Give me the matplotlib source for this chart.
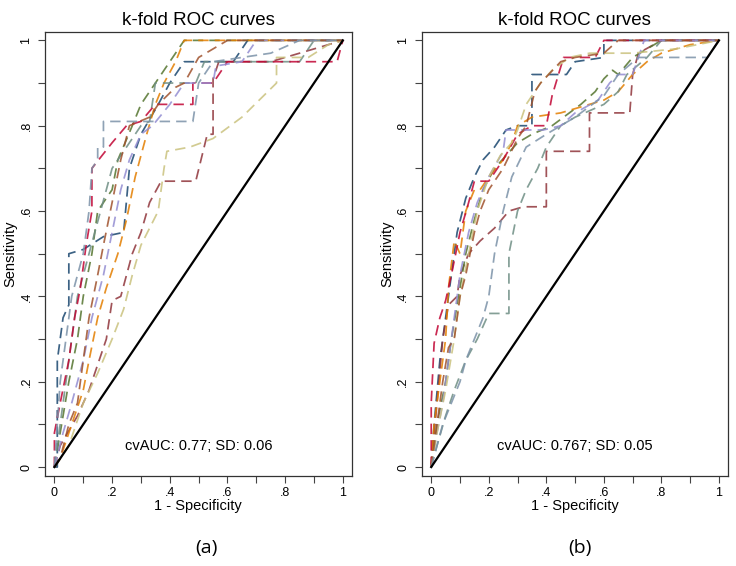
import numpy as np
import matplotlib
matplotlib.use('Agg')
import matplotlib.pyplot as plt
from matplotlib.ticker import MultipleLocator

plt.rcParams['font.family'] = ['Liberation Sans', 'DejaVu Sans']

# Stata s2color-like palette, one colour per fold
fold_colors = ['#1a476f', '#90353b', '#55752f', '#e37e00', '#6e8e84',
               '#c10534', '#938dd2', '#cac27e', '#a0522d', '#7b92a8']

# Panel (a): fold ROC curves, (1 - specificity, sensitivity)
a_navy_x = [0, 0.01, 0.01, 0.03, 0.05, 0.05, 0.1, 0.17, 0.24, 0.26, 0.3, 0.36, 0.4, 0.45, 0.62, 0.67, 1]
a_navy_y = [0, 0, 0.25, 0.35, 0.38, 0.5, 0.51, 0.54, 0.55, 0.7, 0.78, 0.85, 0.9, 0.95, 0.95, 1.0, 1]
a_maroon_x = [0, 0.02, 0.08, 0.12, 0.18, 0.2, 0.23, 0.27, 0.3, 0.33, 0.37, 0.49, 0.53, 0.55, 0.55, 0.57, 0.75, 1]
a_maroon_y = [0, 0.05, 0.12, 0.18, 0.3, 0.39, 0.4, 0.5, 0.55, 0.62, 0.67, 0.67, 0.78, 0.78, 0.91, 0.95, 0.95, 1]
a_green_x = [0, 0.03, 0.05, 0.08, 0.1, 0.13, 0.15, 0.2, 0.22, 0.27, 0.3, 0.35, 0.4, 0.45, 1]
a_green_y = [0, 0.12, 0.2, 0.3, 0.4, 0.5, 0.6, 0.65, 0.72, 0.8, 0.85, 0.9, 0.95, 1.0, 1]
a_orange_x = [0, 0.02, 0.05, 0.1, 0.12, 0.15, 0.18, 0.22, 0.25, 0.28, 0.3, 0.32, 0.35, 0.38, 0.42, 0.45, 1]
a_orange_y = [0, 0.02, 0.08, 0.18, 0.25, 0.35, 0.42, 0.5, 0.58, 0.68, 0.73, 0.78, 0.85, 0.9, 0.95, 1.0, 1]
a_teal_x = [0, 0.02, 0.04, 0.06, 0.08, 0.1, 0.12, 0.14, 0.16, 0.2, 0.25, 0.3, 0.33, 0.35, 0.49, 0.52, 0.85, 0.9, 1]
a_teal_y = [0, 0.1, 0.2, 0.3, 0.4, 0.45, 0.5, 0.55, 0.6, 0.7, 0.75, 0.8, 0.81, 0.9, 0.9, 0.95, 0.95, 1.0, 1]
a_cranb_x = [0, 0, 0.02, 0.05, 0.07, 0.09, 0.11, 0.13, 0.13, 0.2, 0.25, 0.3, 0.35, 0.48, 0.48, 0.55, 0.6, 0.98, 1]
a_cranb_y = [0, 0.08, 0.15, 0.25, 0.35, 0.42, 0.52, 0.6, 0.7, 0.76, 0.8, 0.81, 0.85, 0.85, 0.9, 0.9, 0.95, 0.95, 1]
a_lav_x = [0, 0.03, 0.06, 0.1, 0.13, 0.17, 0.2, 0.23, 0.26, 0.3, 0.34, 0.4, 0.45, 0.55, 0.56, 0.65, 0.7, 1]
a_lav_y = [0, 0.08, 0.15, 0.25, 0.35, 0.45, 0.55, 0.65, 0.72, 0.78, 0.8, 0.85, 0.9, 0.9, 0.94, 0.95, 1.0, 1]
a_khaki_x = [0, 0.05, 0.1, 0.15, 0.2, 0.24, 0.27, 0.3, 0.33, 0.36, 0.38, 0.39, 0.47, 0.55, 0.65, 0.77, 0.77, 0.88, 0.95, 1]
a_khaki_y = [0, 0.05, 0.15, 0.22, 0.3, 0.37, 0.45, 0.52, 0.56, 0.6, 0.7, 0.74, 0.75, 0.77, 0.82, 0.9, 0.96, 0.96, 0.99, 1]
a_sienna_x = [0, 0.02, 0.05, 0.08, 0.1, 0.12, 0.15, 0.17, 0.2, 0.23, 0.26, 0.33, 0.36, 0.42, 0.45, 0.5, 0.55, 0.6, 1]
a_sienna_y = [0, 0.02, 0.1, 0.15, 0.25, 0.35, 0.45, 0.52, 0.62, 0.72, 0.8, 0.82, 0.85, 0.89, 0.9, 0.96, 0.98, 1.0, 1]
a_steel_x = [0, 0.01, 0.02, 0.04, 0.06, 0.08, 0.1, 0.12, 0.13, 0.15, 0.15, 0.17, 0.17, 0.48, 0.5, 0.55, 0.75, 0.85, 1]
a_steel_y = [0, 0.1, 0.2, 0.3, 0.4, 0.45, 0.5, 0.6, 0.7, 0.72, 0.75, 0.75, 0.81, 0.81, 0.9, 0.95, 0.97, 1.0, 1]

# Panel (b)
b_navy_x = [0, 0.01, 0.03, 0.05, 0.07, 0.09, 0.12, 0.15, 0.18, 0.22, 0.26, 0.3, 0.35, 0.35, 0.47, 0.5, 0.6, 0.6, 1]
b_navy_y = [0, 0.1, 0.25, 0.35, 0.45, 0.55, 0.63, 0.68, 0.72, 0.75, 0.79, 0.8, 0.8, 0.92, 0.92, 0.95, 0.96, 1.0, 1]
b_maroon_x = [0, 0.02, 0.04, 0.06, 0.09, 0.1, 0.13, 0.17, 0.22, 0.27, 0.32, 0.4, 0.4, 0.55, 0.55, 0.69, 0.7, 0.72, 0.8, 1]
b_maroon_y = [0, 0.15, 0.3, 0.38, 0.4, 0.45, 0.5, 0.53, 0.56, 0.6, 0.61, 0.61, 0.74, 0.74, 0.83, 0.83, 0.92, 0.97, 1.0, 1]
b_green_x = [0, 0.02, 0.05, 0.07, 0.1, 0.12, 0.15, 0.18, 0.22, 0.26, 0.3, 0.35, 0.42, 0.48, 0.52, 0.57, 0.6, 0.63, 0.65, 0.7, 0.8, 1]
b_green_y = [0, 0.1, 0.2, 0.3, 0.42, 0.5, 0.58, 0.65, 0.7, 0.73, 0.76, 0.78, 0.8, 0.83, 0.85, 0.88, 0.91, 0.93, 0.92, 0.96, 1.0, 1]
b_orange_x = [0, 0.01, 0.03, 0.05, 0.06, 0.08, 0.1, 0.12, 0.15, 0.17, 0.2, 0.25, 0.28, 0.3, 0.35, 0.45, 0.55, 0.6, 0.65, 0.7, 0.75, 0.8, 0.9, 1]
b_orange_y = [0, 0.1, 0.2, 0.3, 0.42, 0.53, 0.5, 0.6, 0.65, 0.65, 0.68, 0.72, 0.76, 0.8, 0.82, 0.83, 0.85, 0.86, 0.88, 0.92, 0.95, 0.97, 0.99, 1]
b_teal_x = [0, 0.02, 0.05, 0.08, 0.12, 0.16, 0.2, 0.27, 0.27, 0.3, 0.33, 0.37, 0.4, 0.45, 0.5, 0.6, 0.65, 0.68, 0.75, 0.8, 1]
b_teal_y = [0, 0.05, 0.12, 0.18, 0.25, 0.3, 0.36, 0.36, 0.5, 0.6, 0.65, 0.7, 0.75, 0.8, 0.82, 0.85, 0.88, 0.92, 0.96, 1.0, 1]
b_cranb_x = [0, 0, 0.01, 0.03, 0.05, 0.07, 0.1, 0.13, 0.15, 0.2, 0.25, 0.3, 0.35, 0.4, 0.42, 0.46, 0.57, 0.6, 1]
b_cranb_y = [0, 0.15, 0.29, 0.35, 0.39, 0.45, 0.55, 0.62, 0.67, 0.67, 0.72, 0.78, 0.8, 0.8, 0.87, 0.96, 0.96, 1.0, 1]
b_lav_x = [0, 0.02, 0.04, 0.06, 0.08, 0.1, 0.13, 0.16, 0.2, 0.25, 0.26, 0.39, 0.45, 0.5, 0.58, 0.62, 0.65, 0.7, 0.72, 0.74, 1]
b_lav_y = [0, 0.08, 0.15, 0.25, 0.35, 0.45, 0.55, 0.62, 0.68, 0.74, 0.79, 0.79, 0.8, 0.83, 0.86, 0.9, 0.92, 0.92, 0.96, 1.0, 1]
b_khaki_x = [0, 0.02, 0.05, 0.08, 0.1, 0.13, 0.16, 0.2, 0.24, 0.28, 0.3, 0.33, 0.38, 0.42, 0.48, 0.55, 0.7, 0.85, 1]
b_khaki_y = [0, 0.08, 0.18, 0.3, 0.4, 0.5, 0.6, 0.68, 0.73, 0.76, 0.79, 0.85, 0.9, 0.93, 0.96, 0.97, 0.97, 0.98, 1]
b_sienna_x = [0, 0.02, 0.04, 0.06, 0.08, 0.1, 0.12, 0.15, 0.17, 0.2, 0.25, 0.3, 0.33, 0.36, 0.38, 0.45, 0.5, 0.6, 0.65, 1]
b_sienna_y = [0, 0.1, 0.2, 0.28, 0.3, 0.4, 0.45, 0.55, 0.6, 0.65, 0.7, 0.77, 0.8, 0.88, 0.9, 0.95, 0.96, 0.97, 1.0, 1]
b_steel_x = [0, 0.02, 0.04, 0.07, 0.1, 0.12, 0.15, 0.18, 0.2, 0.22, 0.25, 0.28, 0.33, 0.4, 0.5, 0.6, 0.65, 0.72, 0.96, 1]
b_steel_y = [0, 0.05, 0.1, 0.15, 0.2, 0.25, 0.3, 0.35, 0.4, 0.5, 0.6, 0.68, 0.75, 0.78, 0.82, 0.87, 0.92, 0.96, 0.96, 1]

curves_a = [(a_navy_x, a_navy_y), (a_maroon_x, a_maroon_y), (a_green_x, a_green_y),
            (a_orange_x, a_orange_y), (a_teal_x, a_teal_y), (a_cranb_x, a_cranb_y),
            (a_lav_x, a_lav_y), (a_khaki_x, a_khaki_y), (a_sienna_x, a_sienna_y),
            (a_steel_x, a_steel_y)]
curves_b = [(b_navy_x, b_navy_y), (b_maroon_x, b_maroon_y), (b_green_x, b_green_y),
            (b_orange_x, b_orange_y), (b_teal_x, b_teal_y), (b_cranb_x, b_cranb_y),
            (b_lav_x, b_lav_y), (b_khaki_x, b_khaki_y), (b_sienna_x, b_sienna_y),
            (b_steel_x, b_steel_y)]

cv_texts = ['cvAUC: 0.77; SD: 0.06', 'cvAUC: 0.767; SD: 0.05']
panel_labels = ['(a)', '(b)']
tick_labels = ['0', '.2', '.4', '.6', '.8', '1']

fig = plt.figure(figsize=(7.36, 5.66), dpi=100)
axes = [fig.add_axes([0.061, 0.159, 0.417, 0.784]),
        fig.add_axes([0.573, 0.159, 0.416, 0.784])]

for ax, curves, txt in zip(axes, [curves_a, curves_b], cv_texts):
    for (cx, cy), col in zip(curves, fold_colors):
        ax.plot(cx, cy, color=col, lw=1.25, alpha=0.85, linestyle=(0, (6, 3.5)))
    # reference line
    ax.plot([0, 1], [0, 1], color='black', lw=1.6)

    ax.set_xlim(-0.033, 1.031)
    ax.set_ylim(-0.021, 1.019)
    ax.xaxis.set_minor_locator(MultipleLocator(0.1))
    ax.yaxis.set_minor_locator(MultipleLocator(0.1))
    ax.set_xticks(np.linspace(0, 1, 6))
    ax.set_xticklabels(tick_labels)
    ax.set_yticks(np.linspace(0, 1, 6))
    ax.set_yticklabels(tick_labels, rotation=90, va='center')
    ax.tick_params(which='both', length=5, width=0.8, color='#444444', labelsize=9, pad=3)
    ax.tick_params(axis='y', pad=4)
    for s in ax.spines.values():
        s.set_linewidth(0.9)
        s.set_color('#333333')

    ax.set_title('k-fold ROC curves', fontsize=13.5, pad=5)
    ax.set_xlabel('1 - Specificity', fontsize=10.5, labelpad=0)
    ax.set_ylabel('Sensitivity', fontsize=10.5, labelpad=2)
    ax.text(0.5, 0.05, txt, ha='center', va='center', fontsize=10.5)

fig.text(0.281, 0.032, panel_labels[0], ha='center', va='center', fontsize=14, family=['Open Sans', 'DejaVu Sans'])
fig.text(0.788, 0.032, panel_labels[1], ha='center', va='center', fontsize=14, family=['Open Sans', 'DejaVu Sans'])

fig.savefig('out.png', dpi=100)
